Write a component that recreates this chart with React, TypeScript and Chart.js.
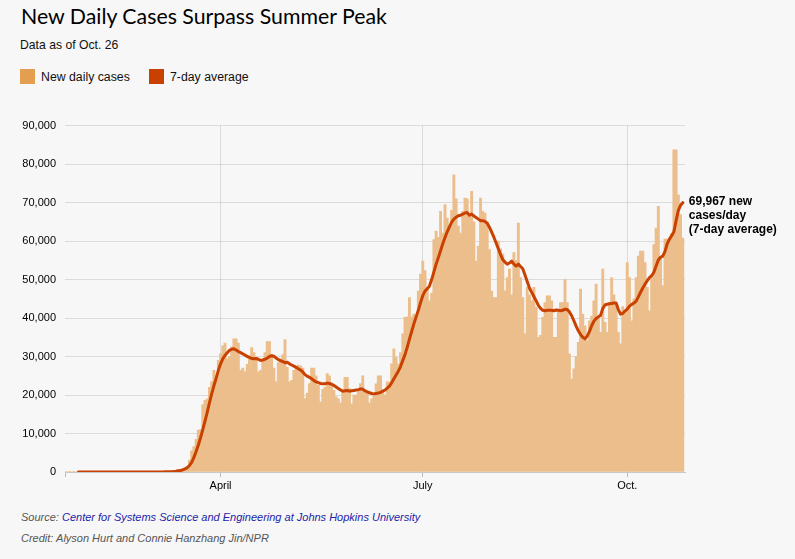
import React, { useEffect, useRef } from 'react';
import { Chart, registerables } from 'chart.js';

Chart.register(...registerables);

// Day index 0 = Jan. 22, 2020; last index = Oct. 26, 2020
const dailyCases: number[] = [
  1, 0, 1, 0, 3, 0, 0, 0, 1, 1,
  1, 1, 3, 0, 1, 0, 0, 0, 0, 1,
  0, 0, 1, 0, 0, 0, 0, 0, 0, 0,
  19, 0, 0, 17, 4, 0, 3, 3, 2,
  10, 20, 25, 30, 60, 50, 100, 110, 120, 280, 350,
  450, 600, 700, 900, 1100, 1400, 3100, 5500, 6600, 8500,
  10900, 11000, 17500, 18600, 19000, 22000, 23500, 26400, 25000, 29000,
  30700, 32800, 33500, 29500, 30000, 32500, 34600, 34600, 33500, 26400,
  27000, 26000, 28000, 30200, 32300, 31000, 29600, 26000, 26400, 29000,
  31000, 33900, 33900, 30600, 27000, 23400, 28400, 29500, 30500, 34400,
  27200, 23400, 23800, 26400, 27000, 27800, 27600, 27000, 19100, 20500,
  23000, 27000, 27000, 25000, 22500, 18200, 21500, 22000, 25600, 25000,
  22600, 21200, 19500, 19000, 18000, 21200, 24600, 24600, 21700, 17700,
  20000, 20000, 21500, 23000, 25000, 21000, 21000, 18000, 19000, 19700,
  22900, 25000, 25000, 21300, 20000, 23400, 23400, 28100, 32000, 29800,
  28100, 31000, 35900, 40200, 40300, 45300, 40300, 41000, 40300, 47000,
  51400, 54800, 52300, 48000, 44500, 46500, 60400, 62600, 61000, 67700,
  62100, 69500, 66000, 63400, 68000, 77200, 71000, 63900, 62100, 67700,
  71200, 71000, 66500, 72900, 65000, 54800, 58700, 71200, 67700, 67300,
  65000, 57800, 47000, 45300, 45300, 60000, 58000, 56600, 47100, 50500,
  52700, 46000, 57000, 55000, 64700, 50500, 45300, 35900, 48000, 46000,
  44500, 48000, 42800, 35000, 35500, 40200, 44000, 45800, 45800, 44500,
  35000, 35000, 42000, 44000, 44000, 50000, 44000, 30700, 24200, 26800,
  30000, 33700, 47500, 41000, 38000, 34100, 39300, 40500, 44500, 48800,
  40200, 36300, 52700, 38900, 36300, 44000, 50500, 46000, 43200, 36300,
  33300, 43000, 41000, 54400, 50500, 39300, 45000, 50500, 56100, 57400,
  57400, 54400, 48000, 41900, 50500, 59100, 63400, 69000, 55700, 48400,
  60500, 60500, 60300, 62000, 83700, 83700, 72000, 66900, 60800,
];

// 7-day average starts at day index 6 (Jan. 28)
const avgStartDay = 6;
const avgCases: number[] = [
  1, 1, 1, 1,
  1, 1, 1, 1, 1, 1, 1, 0, 0, 0,
  0, 0, 0, 0, 0, 0, 0, 0, 0, 0,
  3, 3, 3, 5, 6, 6, 6, 4, 4, 5,
  8, 11, 15, 20, 25, 33, 46, 62, 80, 120,
  200, 300, 400, 550, 800, 1100, 1700, 2500, 3800, 5300,
  7000, 8900, 11000, 13200, 15500, 18000, 20300, 22400, 24300, 26400,
  28100, 29400, 30300, 31000, 31600, 31900, 32000, 31700, 31300, 31000,
  30700, 30400, 30000, 29800, 29500, 29400, 29500, 29300, 29000, 29100,
  29300, 29600, 30000, 30200, 30100, 29600, 29200, 28900, 28700, 28400,
  28500, 28100, 27800, 27500, 27200, 26800, 26500, 26000, 25300, 24900,
  24600, 24200, 23800, 23400, 23200, 23000, 22900, 22900, 23100, 23000,
  22800, 22500, 22100, 21700, 21300, 21000, 21100, 21200, 21000, 21100,
  21200, 21300, 21400, 21600, 21500, 21100, 20800, 20600, 20400, 20300,
  20400, 20500, 20700, 21000, 21300, 21800, 22300, 23200, 24200, 25200,
  26200, 27400, 29000, 30500, 32400, 34500, 36500, 38500, 40300, 42000,
  44000, 45800, 47000, 47600, 48300, 50000, 52000, 54000, 55700, 57500,
  59300, 60900, 62400, 63700, 64900, 65700, 66200, 66600, 66700, 67000,
  67300, 67400, 66700, 67000, 66500, 66100, 65700, 65300, 65300, 65100,
  64600, 63600, 62300, 61000, 59500, 58000, 56500, 55200, 54500, 54000,
  54300, 54800, 54000, 53500, 54000, 53400, 52800, 51200, 49500, 47800,
  46700, 45600, 44500, 43300, 42500, 42000, 41900, 42000, 42000, 42000,
  41900, 42100, 42000, 41900, 42000, 42300, 42200, 41600, 40600, 39300,
  37900, 36700, 35700, 35000, 34600, 35300, 36500, 38000, 39200, 39900,
  40300, 40700, 42500, 43400, 43600, 43700, 43800, 43900, 43900, 42200,
  41000, 41200, 41800, 42300, 43100, 43500, 43900, 44400, 45500, 46700,
  47800, 48800, 49700, 50500, 51000, 51900, 53500, 55100, 55800, 56100,
  57300, 59300, 60500, 61400, 62400, 65300, 68000, 69300, 69967,
];

const monthTickDays = [70, 161, 253];
const monthTickLabels = ['April', 'July', 'Oct.'];
const yTickStep = 10000;
const yMax = 90000;

const FONT = '"Liberation Sans", Arial, Helvetica, sans-serif';

const endLabelPlugin = {
  id: 'endLabel',
  afterDatasetsDraw(chart: any) {
    const meta = chart.getDatasetMeta(0);
    const pts = meta.data;
    if (!pts || !pts.length) return;
    const pt = pts[pts.length - 1];
    const last = avgCases[avgCases.length - 1];
    const lines = [`${last.toLocaleString('en-US')} new`, 'cases/day', '(7-day average)'];
    const ctx = chart.ctx;
    ctx.save();
    ctx.font = `bold 12px ${FONT}`;
    ctx.fillStyle = '#000';
    ctx.textBaseline = 'alphabetic';
    ctx.textAlign = 'left';
    lines.forEach((t, i) => ctx.fillText(t, pt.x + 6, pt.y + 2 + i * 14));
    ctx.restore();
  },
};

export default function App() {
  const ref = useRef<HTMLCanvasElement | null>(null);

  useEffect(() => {
    if (!ref.current) return;
    const barPoints = dailyCases.map((v, i) => ({ x: i, y: v }));
    const avgPoints = avgCases.map((v, i) => ({ x: avgStartDay + i, y: v }));
    const chart = new Chart(ref.current, {
      type: 'bar',
      data: {
        datasets: [
          {
            type: 'line',
            label: '7-day average',
            data: avgPoints as any,
            borderColor: '#C94100',
            borderWidth: 3,
            pointRadius: 0,
            tension: 0,
            borderJoinStyle: 'round',
            borderCapStyle: 'round',
            order: 0,
          } as any,
          {
            type: 'bar',
            label: 'New daily cases',
            data: barPoints as any,
            backgroundColor: '#EBBE8C',
            borderWidth: 0,
            barPercentage: 1,
            categoryPercentage: 1,
            order: 1,
          } as any,
        ],
      },
      options: {
        responsive: false,
        animation: false,
        events: [],
        layout: { padding: { left: 0, right: 110, top: 14, bottom: 0 } },
        scales: {
          x: {
            type: 'linear',
            min: 0,
            max: 279,
            offset: false,
            z: 1,
            afterBuildTicks: (axis: any) => {
              axis.ticks = [0, ...monthTickDays].map((v) => ({ value: v }));
            },
            afterFit: (axis: any) => {
              axis.height = 28;
            },
            ticks: {
              autoSkip: false,
              maxRotation: 0,
              padding: 2,
              color: '#000',
              font: { family: FONT, size: 11 },
              callback: (v: any) => {
                const idx = monthTickDays.indexOf(Number(v));
                return idx >= 0 ? monthTickLabels[idx] : '';
              },
            },
            grid: {
              offset: false,
              drawOnChartArea: true,
              tickLength: 5,
              color: (ctx: any) => (ctx.tick && ctx.tick.value === 0 ? 'rgba(0,0,0,0)' : 'rgba(0,0,0,0.11)'),
              tickColor: '#bbb',
            },
            border: { display: true, color: '#c8c8c8', width: 1 },
          },
          y: {
            min: 0,
            max: yMax,
            z: 1,
            afterFit: (axis: any) => {
              axis.width = 65;
            },
            ticks: {
              stepSize: yTickStep,
              padding: 9,
              color: '#000',
              font: { family: FONT, size: 11 },
              callback: (v: any) => Number(v).toLocaleString('en-US'),
            },
            grid: { color: 'rgba(0,0,0,0.11)', drawTicks: false },
            border: { display: false },
          },
        },
        plugins: {
          legend: { display: false },
          tooltip: { enabled: false },
        },
      },
      plugins: [endLabelPlugin],
    } as any);
    return () => chart.destroy();
  }, []);

  const abs = (top: number, left: number, extra: React.CSSProperties = {}): React.CSSProperties => ({
    position: 'absolute',
    top,
    left,
    whiteSpace: 'nowrap',
    ...extra,
  });

  return (
    <div
      style={{
        position: 'absolute',
        top: 0,
        left: 0,
        width: 795,
        height: 559,
        background: '#F7F7F7',
        overflow: 'hidden',
        fontFamily: FONT,
        color: '#111',
      }}
    >
      <div style={abs(4, 21, { fontFamily: 'Lato, "Open Sans", sans-serif', fontSize: 21.3, lineHeight: '24px', color: '#000' })}>
        New Daily Cases Surpass Summer Peak
      </div>
      <div style={abs(38, 20, { fontSize: 12.2, lineHeight: '14px', color: '#111' })}>Data as of Oct. 26</div>
      <div style={abs(69, 20, { width: 15, height: 15, background: '#E39E50' })} />
      <div style={abs(70, 41, { fontSize: 12.3, lineHeight: '14px', color: '#111' })}>New daily cases</div>
      <div style={abs(69, 149, { width: 15, height: 15, background: '#C94100' })} />
      <div style={abs(70, 170, { fontSize: 12.3, lineHeight: '14px', color: '#111' })}>7-day average</div>

      <canvas ref={ref} width={795} height={390} style={{ position: 'absolute', top: 110, left: 0, width: 795, height: 390 }} />

      <div style={abs(511, 21, { fontSize: 11, lineHeight: '13px', fontStyle: 'italic', color: '#555' })}>
        Source: <span style={{ color: '#2323a8' }}>Center for Systems Science and Engineering at Johns Hopkins University</span>
      </div>
      <div style={abs(532, 21, { fontSize: 11, lineHeight: '13px', fontStyle: 'italic', color: '#555' })}>
        Credit: Alyson Hurt and Connie Hanzhang Jin/NPR
      </div>
    </div>
  );
}
